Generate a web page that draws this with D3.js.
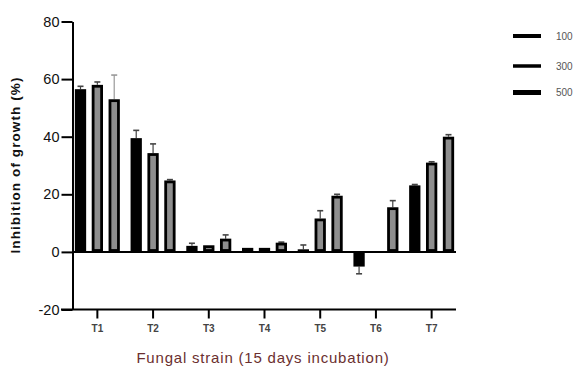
<!DOCTYPE html>
<html><head><meta charset="utf-8">
<script src="https://cdn.jsdelivr.net/npm/d3@7/dist/d3.min.js"></script>
<style>body{margin:0;background:#fff}svg{display:block}</style>
</head><body><svg id="c" width="579" height="369"></svg>
<script>
const categories = ["T1","T2","T3","T4","T5","T6","T7"];
const seriesNames = ["100","300","500"];
const values100 = [56.5, 39.5, 2.1, 1.4, 0.9, -5.1, 23.1];
const values300 = [58.0, 34.3, 2.3, 1.4, 11.6, 0, 31.0];
const values500 = [53.0, 24.8, 4.6, 3.2, 19.5, 15.5, 40.0];
const err100 = [1.0, 2.7, 0.9, 0, 1.5, 2.5, 0.3];
const err300 = [1.0, 3.2, 0, 0, 2.7, 0, 0.3];
const err500 = [8.4, 0.3, 1.3, 0.2, 0.5, 2.3, 0.7];
const yTicks = [-20, 0, 20, 40, 60, 80];

const svg = d3.select("#c");
const y = d3.scaleLinear().domain([-20, 80]).range([309.5, 21.5]);
const x = d3.scaleBand().domain(categories).range([69.5, 459.5]);
const inner = d3.scaleBand().domain(seriesNames).range([-22.5, 22.5]).paddingInner(0.33);

const series = [
  {name:"100", v:values100, e:err100, fill:"#000"},
  {name:"300", v:values300, e:err300, fill:"#8e8e8e"},
  {name:"500", v:values500, e:err500, fill:"#8e8e8e"}
];

series.forEach(s => {
  const g = svg.append("g");
  categories.forEach((c, i) => {
    const val = s.v[i];
    if (val === 0) return;
    const x0 = x(c) + x.bandwidth()/2 + inner(s.name);
    const w = inner.bandwidth();
    const top = y(Math.max(val, 0)), bot = y(Math.min(val, 0));
    if (s.e[i] > 0) {
      const ev = val >= 0 ? val + s.e[i] : val - s.e[i];
      const cx = x0 + w/2;
      const col = (s.name === "500" && i === 0) ? "#999" : "#444";
      g.append("line").attr("x1", cx).attr("x2", cx)
        .attr("y1", y(val)).attr("y2", y(ev)).attr("stroke", col).attr("stroke-width", 1.2);
      g.append("line").attr("x1", cx-3).attr("x2", cx+3)
        .attr("y1", y(ev)).attr("y2", y(ev)).attr("stroke", col).attr("stroke-width", 1.6);
    }
    g.append("rect").attr("x", x0 + 1.4).attr("y", top + 1.4)
      .attr("width", w - 2.8).attr("height", Math.max(bot - top - 2.8, 0.5))
      .attr("fill", s.fill).attr("stroke", "#000").attr("stroke-width", 2.8);
  });
});

svg.append("line").attr("x1", 72).attr("x2", 456).attr("y1", y(0)).attr("y2", y(0))
  .attr("stroke", "#000").attr("stroke-width", 2);

const yAxis = svg.append("g").attr("transform", "translate(72.5,0)")
  .call(d3.axisLeft(y).tickValues(yTicks).tickFormat(d => String(d)).tickSize(11).tickSizeOuter(0).tickPadding(2));
yAxis.select(".domain").attr("stroke-width", 2);
yAxis.selectAll(".tick line").attr("stroke-width", 2);
yAxis.selectAll("text").attr("font-family", "Liberation Sans, Arial, sans-serif")
  .attr("font-size", 14.5).attr("fill", "#111");

const xAxis = svg.append("g").attr("transform", `translate(0,${y(-20)})`)
  .call(d3.axisBottom(x).tickSize(9).tickSizeOuter(0).tickPadding(6));
xAxis.select(".domain").attr("d", "M61,0H456").attr("stroke-width", 2);
xAxis.selectAll(".tick line").attr("stroke-width", 2);
xAxis.selectAll("text").attr("font-family", "Liberation Sans Narrow, Liberation Sans, Arial, sans-serif")
  .attr("font-weight", "bold").attr("font-size", 10).attr("fill", "#444");

svg.append("text").attr("transform", "translate(20,165) rotate(-90)")
  .attr("text-anchor", "middle").attr("font-family", "Liberation Sans, Arial, sans-serif")
  .attr("font-weight", "bold").attr("font-size", 13.5).attr("letter-spacing", 1.1).attr("fill", "#111")
  .text("Inhibition of growth (%)");
svg.append("text").attr("x", 263).attr("y", 363)
  .attr("text-anchor", "middle").attr("font-family", "Liberation Sans, Arial, sans-serif")
  .attr("font-size", 15).attr("letter-spacing", 0.8).attr("fill", "#6b2f2f")
  .text("Fungal strain (15 days incubation)");

const legY = [36, 66, 92.5];
const legW = [4, 3.5, 5];
seriesNames.forEach((n, i) => {
  svg.append("line").attr("x1", 513).attr("x2", 541).attr("y1", legY[i]).attr("y2", legY[i])
    .attr("stroke", "#000").attr("stroke-width", legW[i]);
  svg.append("text").attr("x", 556).attr("y", legY[i] + 3.5)
    .attr("font-family", "Liberation Sans, Arial, sans-serif").attr("font-size", 10).attr("fill", "#555")
    .text(n);
});
</script></body></html>
